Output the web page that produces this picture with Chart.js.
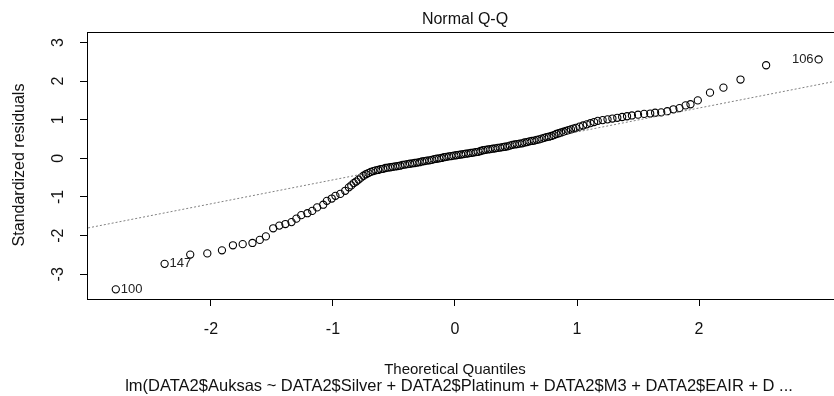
<!DOCTYPE html>
<html lang="en">
<head>
  <meta charset="UTF-8">
  <title>Normal Q-Q</title>
  <script src="https://cdn.jsdelivr.net/npm/chart.js"></script>
  <style>
    html, body {
      margin: 0;
      padding: 0;
      background: #ffffff;
      overflow: hidden;
      width: 834px;
      height: 396px;
    }
    #qq {
      display: block;
      background: #ffffff;
    }
  </style>
</head>
<body>
  <canvas id="qq" width="860" height="396"></canvas>

  <script>
    // Theoretical quantiles (x) and standardized residuals (y)
    const qqX = [
      -2.78, -2.38, -2.17, -2.03, -1.91, -1.82, -1.74, -1.66, -1.60, -1.55,
      -1.49, -1.44, -1.39, -1.34, -1.30, -1.26, -1.21, -1.17, -1.13, -1.08,
      -1.05, -1.01, -0.98, -0.94, -0.90, -0.87,
      -0.85, -0.83, -0.81, -0.79, -0.77, -0.75, -0.73, -0.71, -0.69, -0.67,
      -0.65, -0.63, -0.61, -0.59, -0.57, -0.55, -0.53, -0.51, -0.49, -0.47,
      -0.45, -0.43, -0.41, -0.39, -0.37, -0.35, -0.33, -0.31, -0.29, -0.27,
      -0.25, -0.23, -0.21, -0.19, -0.17, -0.15, -0.13, -0.11, -0.09, -0.07,
      -0.05, -0.03, -0.01, 0.01, 0.03, 0.05, 0.07, 0.09, 0.11, 0.13,
      0.15, 0.17, 0.19, 0.21, 0.23, 0.25, 0.27, 0.29, 0.31, 0.33,
      0.35, 0.37, 0.39, 0.41, 0.43, 0.45, 0.47, 0.49, 0.51, 0.53,
      0.55, 0.57, 0.59, 0.61, 0.63, 0.65, 0.67, 0.69, 0.71, 0.73,
      0.75, 0.77, 0.79, 0.81, 0.83, 0.85, 0.87, 0.89, 0.91, 0.93,
      0.95, 0.97, 0.99,
      1.02, 1.05, 1.08, 1.11, 1.14, 1.17, 1.21, 1.25, 1.29, 1.33,
      1.37, 1.41, 1.45, 1.50, 1.55,
      1.60, 1.64, 1.69, 1.74, 1.79, 1.84, 1.89, 1.93, 1.99, 2.09,
      2.20, 2.34, 2.55, 2.98
    ];
    const qqY = [
      -3.39, -2.73, -2.49, -2.46, -2.38, -2.25, -2.22, -2.19, -2.11, -2.02,
      -1.81, -1.74, -1.70, -1.65, -1.56, -1.47, -1.42, -1.36, -1.27, -1.20,
      -1.10, -1.04, -0.97, -0.92, -0.84, -0.75,
      -0.70, -0.64, -0.60, -0.55, -0.50, -0.45, -0.41, -0.38, -0.35, -0.33,
      -0.31, -0.30, -0.28, -0.27, -0.25, -0.24, -0.23, -0.22, -0.21, -0.20,
      -0.19, -0.17, -0.16, -0.15, -0.14, -0.13, -0.12, -0.11, -0.10, -0.08,
      -0.07, -0.06, -0.05, -0.04, -0.02, -0.01, 0.00, 0.01, 0.03, 0.04,
      0.05, 0.06, 0.07, 0.08, 0.09, 0.10, 0.11, 0.12, 0.13, 0.14,
      0.15, 0.16, 0.17, 0.19, 0.21, 0.22, 0.23, 0.24, 0.25, 0.26,
      0.27, 0.28, 0.29, 0.30, 0.31, 0.33, 0.35, 0.36, 0.37, 0.38,
      0.39, 0.41, 0.42, 0.44, 0.45, 0.46, 0.48, 0.49, 0.51, 0.53,
      0.55, 0.56, 0.58, 0.60, 0.63, 0.65, 0.67, 0.69, 0.71, 0.73,
      0.75, 0.77, 0.79,
      0.82, 0.85, 0.88, 0.91, 0.94, 0.97, 0.99, 1.01, 1.03, 1.05,
      1.07, 1.09, 1.11, 1.13, 1.15,
      1.16, 1.18, 1.19, 1.22, 1.27, 1.30, 1.37, 1.40, 1.50, 1.70,
      1.83, 2.04, 2.41, 2.56
    ];

    // qqline, read at both ends (runs past the plot box, clipped)
    const lineX = [-3.2, 3.4];
    const lineY = [-1.92, 2.17];

    // ticks
    const xTicks = [-2, -1, 0, 1, 2];
    const yTicks = [-3, -2, -1, 0, 1, 2, 3];

    // labelled observations (index into qqX/qqY)
    const labelIdx = [0, 1, qqX.length - 1];
    const labelText = ['100', '147', '106'];

    const FONT = "'Liberation Sans', Arial, sans-serif";

    // draws the R-style box, titles, tick labels and point ids
    const rDecor = {
      id: 'rDecor',
      beforeDatasetsDraw(chart) {
        const { ctx, chartArea: a } = chart;
        ctx.save();
        ctx.strokeStyle = '#000';
        ctx.lineWidth = 1;
        ctx.strokeRect(Math.round(a.left) + 0.5, Math.round(a.top) + 0.5,
          Math.round(a.right - a.left), Math.round(a.bottom - a.top));
        ctx.restore();
      },
      afterDraw(chart) {
        const { ctx, scales: { x, y } } = chart;
        ctx.save();
        ctx.fillStyle = '#111';
        ctx.textBaseline = 'middle';
        ctx.textAlign = 'center';

        // x tick labels
        ctx.font = '16px ' + FONT;
        xTicks.forEach(v => ctx.fillText(String(v), x.getPixelForValue(v), 330));

        // y tick labels, rotated like R's las = 0
        yTicks.forEach(v => {
          ctx.save();
          ctx.translate(59, y.getPixelForValue(v));
          ctx.rotate(-Math.PI / 2);
          ctx.fillText(String(v), 0, 0);
          ctx.restore();
        });

        // titles
        ctx.fillText('Normal Q-Q', 465, 20);
        ctx.save();
        ctx.translate(20, 165);
        ctx.rotate(-Math.PI / 2);
        ctx.fillText('Standardized residuals', 0, 0);
        ctx.restore();
        ctx.font = '15px ' + FONT;
        ctx.fillText('Theoretical Quantiles', 455, 370);
        ctx.font = '16.5px ' + FONT;
        ctx.fillText('lm(DATA2$Auksas ~ DATA2$Silver + DATA2$Platinum + DATA2$M3 + DATA2$EAIR + D ...', 459, 386);

        // point ids
        ctx.font = '13px ' + FONT;
        ctx.fillStyle = '#222';
        labelIdx.forEach((idx, k) => {
          const px = x.getPixelForValue(qqX[idx]);
          const py = y.getPixelForValue(qqY[idx]);
          if (qqX[idx] > 0) {
            ctx.textAlign = 'right';
            ctx.fillText(labelText[k], px - 5, py);
          } else {
            ctx.textAlign = 'left';
            ctx.fillText(labelText[k], px + 5, py);
          }
        });
        ctx.restore();
      }
    };

    const points = qqX.map((v, i) => ({ x: v, y: qqY[i] }));
    const qqLine = lineX.map((v, i) => ({ x: v, y: lineY[i] }));

    const axisCommon = {
      type: 'linear',
      ticks: { display: false },
      grid: { display: true, drawOnChartArea: false, drawTicks: true, tickLength: 7, color: '#000', lineWidth: 1 },
      border: { display: false }
    };

    new Chart(document.getElementById('qq').getContext('2d'), {
      type: 'scatter',
      data: {
        datasets: [
          {
            type: 'line',
            data: qqLine,
            borderColor: '#808080',
            borderWidth: 1,
            borderDash: [2, 2],
            pointRadius: 0,
            fill: false
          },
          {
            data: points,
            pointStyle: 'circle',
            pointRadius: 3.6,
            borderWidth: 1.1,
            borderColor: '#000',
            backgroundColor: 'rgba(0,0,0,0)'
          }
        ]
      },
      options: {
        responsive: false,
        animation: false,
        layout: { padding: { top: 32, right: 17, left: 0, bottom: 0 } },
        plugins: { legend: { display: false }, tooltip: { enabled: false } },
        scales: {
          x: Object.assign({}, axisCommon, {
            min: -3.016,
            max: 3.18,
            afterBuildTicks: s => { s.ticks = xTicks.map(v => ({ value: v })); },
            afterFit: s => { s.height = 97; }
          }),
          y: Object.assign({}, axisCommon, {
            min: -3.64,
            max: 3.27,
            afterBuildTicks: s => { s.ticks = yTicks.map(v => ({ value: v })); },
            afterFit: s => { s.width = 87; }
          })
        }
      },
      plugins: [rDecor]
    });
  </script>
</body>
</html>
